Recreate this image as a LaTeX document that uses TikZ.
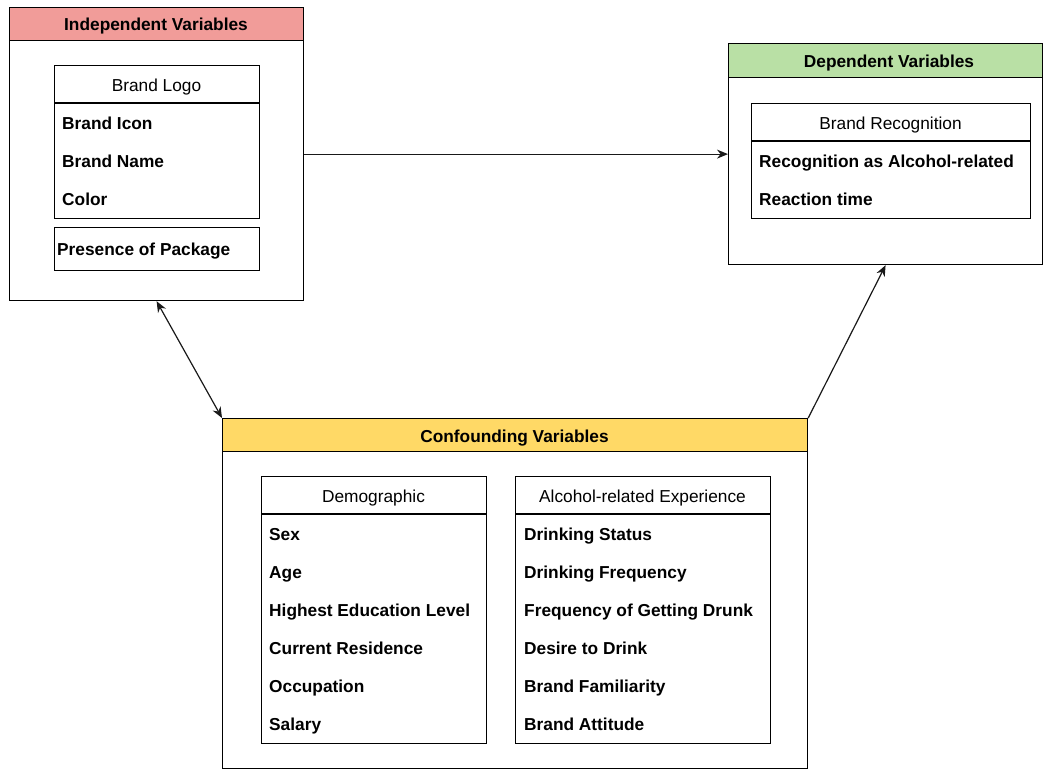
\documentclass[tikz,border=0pt]{standalone}
\usepackage{fontspec}
\setmainfont{Liberation Sans}
\usetikzlibrary{arrows.meta}
\definecolor{hpink}{HTML}{F19C99}
\definecolor{hgreen}{HTML}{B9E0A5}
\definecolor{hyellow}{HTML}{FFD966}
\tikzset{
  box/.style={draw=black, line width=1.2pt, fill=white, anchor=north west, inner sep=0pt},
  hdr/.style={draw=black, line width=1.2pt, anchor=north west, inner sep=0pt},
  htext/.style={font=\fontsize{17.3}{19}\selectfont\bfseries, anchor=center, inner sep=0pt, text height=12.4pt, text depth=0pt},
  ttext/.style={font=\fontsize{17.3}{19}\selectfont, anchor=center, inner sep=0pt, text height=12.4pt, text depth=0pt},
  item/.style={font=\fontsize{17.3}{19}\selectfont\bfseries, anchor=west, inner sep=0pt, text height=12.4pt, text depth=0pt},
  conn/.style={line width=1.2pt, draw=black!90, >={Stealth[length=11pt,width=9pt]}},
}
\begin{document}
\begin{tikzpicture}[x=1pt,y=-1pt]
\useasboundingbox (0,0) rectangle (1043,769);
% Independent
\node[box, minimum width=294pt, minimum height=293pt] (indep) at (9,7) {};
\node[hdr, fill=hpink, minimum width=294pt, minimum height=33pt] (indeph) at (9,7) {};
\node[htext] (indept) at (156,24) {Independent Variables};
\node[box, minimum width=205pt, minimum height=153pt] (logo) at (54,65) {};
\draw[line width=1.2pt] (logo.west |- 0,103) -- (logo.east |- 0,103);
\node[ttext] (logot) at (156.5,85) {Brand Logo};
\node[item] (i1) at (62,123) {Brand Icon};
\node[item] (i2) at (62,161) {Brand Name};
\node[item] (i3) at (62,199) {Color};
\node[box, minimum width=205pt, minimum height=43pt] (pkg) at (54,227) {};
\node[item] (i4) at (57,249) {Presence of Package};
% Dependent
\node[box, minimum width=314pt, minimum height=221pt] (dep) at (728,43) {};
\node[hdr, fill=hgreen, minimum width=314pt, minimum height=34pt] (deph) at (728,43) {};
\node[htext] (dept) at (889,61) {Dependent Variables};
\node[box, minimum width=279pt, minimum height=115pt] (rec) at (751,103) {};
\draw[line width=1.2pt] (rec.west |- 0,141) -- (rec.east |- 0,141);
\node[ttext] (rect) at (890.5,123) {Brand Recognition};
\node[item] (d1) at (759,161) {Recognition as Alcohol-related};
\node[item] (d2) at (759,199) {Reaction time};
% Confounding
\node[box, minimum width=585pt, minimum height=350pt] (conf) at (222,418) {};
\node[hdr, fill=hyellow, minimum width=585pt, minimum height=33pt] (confh) at (222,418) {};
\node[htext] (conft) at (514.5,436) {Confounding Variables};
\node[box, minimum width=225pt, minimum height=267pt] (demo) at (261,476) {};
\draw[line width=1.2pt] (demo.west |- 0,514) -- (demo.east |- 0,514);
\node[ttext] (demot) at (373.5,496) {Demographic};
\node[item] (c1) at (269,534) {Sex};
\node[item] (c2) at (269,572) {Age};
\node[item] (c3) at (269,610) {Highest Education Level};
\node[item] (c4) at (269,648) {Current Residence};
\node[item] (c5) at (269,686) {Occupation};
\node[item] (c6) at (269,724) {Salary};
\node[box, minimum width=255pt, minimum height=267pt] (alc) at (515,476) {};
\draw[line width=1.2pt] (alc.west |- 0,514) -- (alc.east |- 0,514);
\node[ttext] (alct) at (642.5,496) {Alcohol-related Experience};
\node[item] (a1) at (524,534) {Drinking Status};
\node[item] (a2) at (524,572) {Drinking Frequency};
\node[item] (a3) at (524,610) {Frequency of Getting Drunk};
\node[item] (a4) at (524,648) {Desire to Drink};
\node[item] (a5) at (524,686) {Brand Familiarity};
\node[item] (a6) at (524,724) {Brand Attitude};
% Connectors
\draw[conn, ->] (indep.east) -- (dep.west);
\draw[conn, <->] (indep.south) -- (conf.north west);
\draw[conn, ->] (conf.north east) -- (dep.south);
\end{tikzpicture}
\end{document}
